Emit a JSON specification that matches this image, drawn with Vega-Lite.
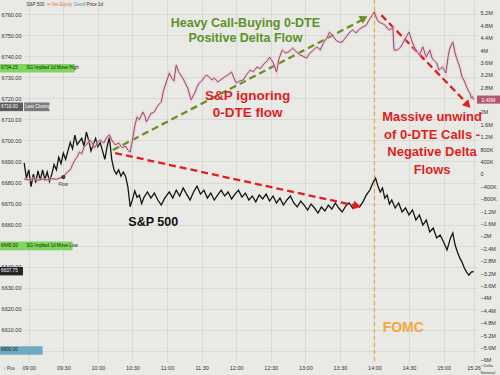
{
  "$schema": "https://vega.github.io/schema/vega-lite/v6.json",
  "width": 454,
  "height": 362,
  "autosize": {"type": "none"},
  "padding": {"left": 23, "right": 23, "top": 0, "bottom": 13},
  "background": "#e9e9e6",
  "config": {
    "view": {"stroke": null},
    "font": "Liberation Sans",
    "axis": {"labelFont": "Liberation Sans", "labelFontSize": 5.5, "labelColor": "#333333", "ticks": false, "domain": false, "title": null, "gridColor": "#d3d3cf", "gridWidth": 0.7}
  },
  "datasets": {
    "spx": [
      {"t":"08:56","p":6689.3},{"t":"08:58","p":6682},{"t":"09:00","p":6686},{"t":"09:02","p":6678},{"t":"09:04","p":6684},{"t":"09:06","p":6680},{"t":"09:08","p":6685.5},{"t":"09:10","p":6681},{"t":"09:12","p":6686},{"t":"09:14","p":6681.5},{"t":"09:16","p":6685},{"t":"09:18","p":6680.5},{"t":"09:20","p":6684},{"t":"09:22","p":6688.5},{"t":"09:24","p":6686},{"t":"09:26","p":6692},{"t":"09:28","p":6689},{"t":"09:30","p":6694},{"t":"09:32","p":6691},{"t":"09:34","p":6695},{"t":"09:36","p":6699},{"t":"09:38","p":6696},{"t":"09:40","p":6702.5},{"t":"09:42","p":6698},{"t":"09:44","p":6699.5},{"t":"09:46","p":6701},{"t":"09:48","p":6697},{"t":"09:50","p":6704},{"t":"09:52","p":6700},{"t":"09:54","p":6695},{"t":"09:56","p":6698},{"t":"09:58","p":6701},{"t":"10:00","p":6697},{"t":"10:02","p":6699},{"t":"10:04","p":6695},{"t":"10:06","p":6691},{"t":"10:08","p":6697},{"t":"10:10","p":6701.5},{"t":"10:12","p":6691},{"t":"10:14","p":6686},{"t":"10:16","p":6684},{"t":"10:18","p":6686},{"t":"10:20","p":6683},{"t":"10:22","p":6685},{"t":"10:24","p":6683},{"t":"10:26","p":6678},{"t":"10:28","p":6668.5},{"t":"10:30","p":6672},{"t":"10:32","p":6676},{"t":"10:34","p":6673},{"t":"10:36","p":6674},{"t":"10:38","p":6670},{"t":"10:40","p":6673},{"t":"10:43","p":6675.5},{"t":"10:46","p":6672.6},{"t":"10:49","p":6675},{"t":"10:52","p":6671.7},{"t":"10:55","p":6669.3},{"t":"10:58","p":6672.6},{"t":"11:00","p":6674.1},
      {"t":"11:02","p":6675.5},{"t":"11:05","p":6672.6},{"t":"11:08","p":6676.4},{"t":"11:11","p":6673.6},{"t":"11:14","p":6677.4},{"t":"11:17","p":6674.5},{"t":"11:20","p":6671.7},{"t":"11:23","p":6675.5},{"t":"11:26","p":6678.3},{"t":"11:29","p":6674.5},{"t":"11:32","p":6676.4},{"t":"11:35","p":6672.6},{"t":"11:38","p":6675},{"t":"11:41","p":6671.7},{"t":"11:44","p":6674.1},{"t":"11:47","p":6676.4},{"t":"11:50","p":6673.6},{"t":"11:53","p":6675.5},{"t":"11:56","p":6672.2},{"t":"11:59","p":6674.5},{"t":"12:02","p":6676.4},{"t":"12:05","p":6673.1},{"t":"12:08","p":6675},{"t":"12:11","p":6671.7},{"t":"12:14","p":6673.6},{"t":"12:17","p":6670.8},{"t":"12:20","p":6674.1},{"t":"12:23","p":6672.2},{"t":"12:26","p":6674.5},{"t":"12:29","p":6671.2},{"t":"12:32","p":6673.6},{"t":"12:35","p":6670.3},{"t":"12:38","p":6672.6},{"t":"12:41","p":6669.3},{"t":"12:44","p":6671.7},{"t":"12:47","p":6673.6},{"t":"12:50","p":6670.3},{"t":"12:53","p":6668.4},{"t":"12:56","p":6671.2},{"t":"12:59","p":6669.3},{"t":"13:02","p":6666.9},{"t":"13:05","p":6669.8},{"t":"13:08","p":6667.9},{"t":"13:11","p":6665.5},{"t":"13:14","p":6668.4},{"t":"13:17","p":6666.5},{"t":"13:20","p":6669.3},{"t":"13:23","p":6667.4},{"t":"13:26","p":6670.3},{"t":"13:29","p":6667.9},{"t":"13:32","p":6666},{"t":"13:35","p":6668.8},{"t":"13:38","p":6670.3},{"t":"13:41","p":6667.9},{"t":"13:44","p":6669.8},{"t":"13:47","p":6668.4},{"t":"13:50","p":6670.8},{"t":"13:53","p":6674.1},{"t":"13:56","p":6676.4},{"t":"13:59","p":6680.2},{"t":"14:01","p":6682.1},{"t":"14:03","p":6678.3},{"t":"14:05","p":6675.5},{"t":"14:07","p":6677.4},{"t":"14:09","p":6672.6},{"t":"14:11","p":6674.1},{"t":"14:13","p":6669.8},{"t":"14:15","p":6671.7},{"t":"14:18","p":6667.9},{"t":"14:21","p":6670.3},{"t":"14:24","p":6666},{"t":"14:27","p":6667.9},{"t":"14:30","p":6664.6},{"t":"14:33","p":6667},{"t":"14:36","p":6662.2},{"t":"14:39","p":6664.6},{"t":"14:42","p":6659.8},{"t":"14:45","p":6662.2},{"t":"14:48","p":6656.5},{"t":"14:51","p":6658.4},{"t":"14:54","p":6653.7},{"t":"14:57","p":6655.1},{"t":"15:00","p":6651.8},{"t":"15:03","p":6648},{"t":"15:06","p":6653.7},{"t":"15:08","p":6656},{"t":"15:10","p":6650.3},{"t":"15:12","p":6647},{"t":"15:14","p":6644.2},{"t":"15:16","p":6642.2},{"t":"15:18","p":6639.4},{"t":"15:20","p":6637.5},{"t":"15:22","p":6636},{"t":"15:24","p":6637.5},{"t":"15:26","p":6637.75}
    ]
  },
  "encoding": {
    "x": {
      "field": "t", "type": "temporal",
      "scale": {"domain": [{"year":1900,"month":1,"date":1,"hours":8,"minutes":55},{"year":1900,"month":1,"date":1,"hours":15,"minutes":29}]},
      "axis": {
        "format": "%H:%M", "grid": true, "labelPadding": 3, "labelOverlap": false, "labelFlush": false,
        "values": [
          {"year":1900,"month":1,"date":1,"hours":9,"minutes":0},{"year":1900,"month":1,"date":1,"hours":9,"minutes":30},
          {"year":1900,"month":1,"date":1,"hours":10,"minutes":0},{"year":1900,"month":1,"date":1,"hours":10,"minutes":30},
          {"year":1900,"month":1,"date":1,"hours":11,"minutes":0},{"year":1900,"month":1,"date":1,"hours":11,"minutes":30},
          {"year":1900,"month":1,"date":1,"hours":12,"minutes":0},{"year":1900,"month":1,"date":1,"hours":12,"minutes":30},
          {"year":1900,"month":1,"date":1,"hours":13,"minutes":0},{"year":1900,"month":1,"date":1,"hours":13,"minutes":30},
          {"year":1900,"month":1,"date":1,"hours":14,"minutes":0},{"year":1900,"month":1,"date":1,"hours":14,"minutes":30},
          {"year":1900,"month":1,"date":1,"hours":15,"minutes":0},{"year":1900,"month":1,"date":1,"hours":15,"minutes":26}
        ]
      }
    }
  },
  "layer": [
    {
      "encoding": {
        "y": {
          "field": "p", "type": "quantitative",
          "scale": {"domain": [6594.78, 6766.67], "zero": false, "nice": false},
          "axis": {"orient": "left", "grid": true, "labelPadding": 2,
                   "labelExpr": "(datum.value == 6650 || datum.value == 6600) ? '' : format(datum.value, '.2f')",
                   "values": [6600,6610,6620,6630,6640,6650,6660,6670,6680,6690,6700,6710,6720,6730,6740,6750,6760]}
        }
      },
      "layer": [
        {
          "data": {"values": [
            {"t":"08:35","t2":"09:40","p":6732.2,"p2":6736.3,"kind":"implied"},
            {"t":"08:35","t2":"08:55","p":6713.9,"p2":6718.0,"kind":"close"},
            {"t":"08:56","t2":"09:18","p":6713.9,"p2":6718.0,"kind":"closelabel"},
            {"t":"08:35","t2":"09:38","p":6647.9,"p2":6652.0,"kind":"implied"},
            {"t":"08:35","t2":"08:55","p":6635.9,"p2":6639.9,"kind":"last"},
            {"t":"08:35","t2":"09:12","p":6598.2,"p2":6602.3,"kind":"blue"}
          ], "format": {"parse": {"t": "date:'%H:%M'", "t2": "date:'%H:%M'"}}},
          "mark": {"type": "rect"},
          "encoding": {
            "x2": {"field": "t2"},
            "y2": {"field": "p2"},
            "color": {"field": "kind", "type": "nominal", "legend": null,
                      "scale": {"domain": ["implied","close","closelabel","last","blue"], "range": ["#7fd65c","#5c5c5c","#7a7a7a","#262626","#6eaac2"]}}
          }
        },
        {
          "data": {"values": [
            {"t":"08:36","p":6734.25,"label":"6734.25","kind":"dark"},
            {"t":"08:58","p":6734.25,"label":"SG Implied 1d Move High","kind":"dark"},
            {"t":"08:36","p":6715.95,"label":"6716.00","kind":"light"},
            {"t":"08:57","p":6715.95,"label":"Last Closing","kind":"light"},
            {"t":"08:36","p":6649.95,"label":"6645.00","kind":"dark"},
            {"t":"08:58","p":6649.95,"label":"SG Implied 1d Move Low","kind":"dark"},
            {"t":"08:36","p":6637.9,"label":"6637.75","kind":"light"},
            {"t":"08:36","p":6600.25,"label":"6600.00","kind":"dark"}
          ], "format": {"parse": {"t": "date:'%H:%M'"}}},
          "mark": {"type": "text", "align": "left", "baseline": "middle", "fontSize": 4.6, "font": "Liberation Sans"},
          "encoding": {
            "text": {"field": "label"},
            "color": {"field": "kind", "type": "nominal", "legend": null, "scale": {"domain": ["dark","light"], "range": ["#1a1a1a","#ffffff"]}}
          }
        },
        {
          "data": {"values": [{"t":"08:38","p":6591.3,"label":"↑ Pos"}], "format": {"parse": {"t": "date:'%H:%M'"}}},
          "mark": {"type": "text", "align": "left", "baseline": "middle", "fontSize": 4.5, "color": "#333333", "font": "Liberation Sans"},
          "encoding": {"text": {"field": "label"}}
        },
        {
          "data": {"name": "spx", "format": {"parse": {"t": "date:'%H:%M'"}}},
          "mark": {"type": "line", "color": "#141414", "strokeWidth": 1.3}
        },
        {
          "data": {"values": [{"t":"10:13","p":6695.4,"t2":"13:50","p2":6757.4}], "format": {"parse": {"t": "date:'%H:%M'", "t2": "date:'%H:%M'"}}},
          "mark": {"type": "rule", "color": "#6b8e23", "strokeWidth": 2.3, "strokeDash": [7, 4]},
          "encoding": {"x2": {"field": "t2"}, "y2": {"field": "p2"}}
        },
        {
          "data": {"values": [{"t":"13:51","p":6758.1}], "format": {"parse": {"t": "date:'%H:%M'"}}},
          "mark": {"type": "point", "shape": "triangle-right", "filled": true, "size": 80, "angle": 332, "color": "#6b8e23", "opacity": 1}
        },
        {
          "data": {"values": [{"t":"10:15","p":6694.0,"t2":"13:45","p2":6668.9}], "format": {"parse": {"t": "date:'%H:%M'", "t2": "date:'%H:%M'"}}},
          "mark": {"type": "rule", "color": "#e01e1e", "strokeWidth": 2.3, "strokeDash": [7, 4]},
          "encoding": {"x2": {"field": "t2"}, "y2": {"field": "p2"}}
        },
        {
          "data": {"values": [{"t":"13:45","p":6668.9}], "format": {"parse": {"t": "date:'%H:%M'"}}},
          "mark": {"type": "point", "shape": "triangle-right", "filled": true, "size": 80, "angle": 12, "color": "#e01e1e", "opacity": 1}
        },
        {
          "data": {"values": [{"t":"14:06","p":6759.5,"t2":"15:21","p2":6717.2}], "format": {"parse": {"t": "date:'%H:%M'", "t2": "date:'%H:%M'"}}},
          "mark": {"type": "rule", "color": "#e01e1e", "strokeWidth": 2.3, "strokeDash": [7, 4]},
          "encoding": {"x2": {"field": "t2"}, "y2": {"field": "p2"}}
        },
        {
          "data": {"values": [{"t":"15:21","p":6716.8}], "format": {"parse": {"t": "date:'%H:%M'"}}},
          "mark": {"type": "point", "shape": "triangle-right", "filled": true, "size": 80, "angle": 46, "color": "#e01e1e", "opacity": 1}
        },
        {
          "data": {"values": [
            {"t":"12:08","p":6755.7,"label":"Heavy Call-Buying 0-DTE"},
            {"t":"12:08","p":6748.6,"label":"Positive Delta Flow"}
          ], "format": {"parse": {"t": "date:'%H:%M'"}}},
          "mark": {"type": "text", "align": "center", "baseline": "middle", "fontSize": 12.5, "fontWeight": "bold", "color": "#5f9128", "font": "Liberation Sans"},
          "encoding": {"text": {"field": "label"}}
        },
        {
          "data": {"values": [
            {"t":"12:10","p":6721.1,"label":"S&P ignoring"},
            {"t":"12:10","p":6713.0,"label":"0-DTE flow"}
          ], "format": {"parse": {"t": "date:'%H:%M'"}}},
          "mark": {"type": "text", "align": "center", "baseline": "middle", "fontSize": 13.5, "fontWeight": "bold", "color": "#e01e1e", "font": "Liberation Sans"},
          "encoding": {"text": {"field": "label"}}
        },
        {
          "data": {"values": [
            {"t":"14:50","p":6711.1,"label":"Massive unwind"},
            {"t":"14:50","p":6702.6,"label":"of 0-DTE Calls -"},
            {"t":"14:50","p":6694.5,"label":"Negative Delta"},
            {"t":"14:50","p":6686.0,"label":"Flows"}
          ], "format": {"parse": {"t": "date:'%H:%M'"}}},
          "mark": {"type": "text", "align": "center", "baseline": "middle", "fontSize": 13, "fontWeight": "bold", "color": "#e01e1e", "font": "Liberation Sans"},
          "encoding": {"text": {"field": "label"}}
        },
        {
          "data": {"values": [{"t":"10:48","p":6661.3,"label":"S&P 500"}], "format": {"parse": {"t": "date:'%H:%M'"}}},
          "mark": {"type": "text", "align": "center", "baseline": "middle", "fontSize": 12.5, "fontWeight": "bold", "color": "#111111", "font": "Liberation Sans"},
          "encoding": {"text": {"field": "label"}}
        },
        {
          "data": {"values": [{"t":"14:25","p":6610.9,"label":"FOMC"}], "format": {"parse": {"t": "date:'%H:%M'"}}},
          "mark": {"type": "text", "align": "center", "baseline": "middle", "fontSize": 14, "fontWeight": "bold", "color": "#f2a93b", "font": "Liberation Sans"},
          "encoding": {"text": {"field": "label"}}
        },
        {
          "data": {"values": [
            {"t":"08:58","p":6764.3,"label":"S&P 500","kind":"name"},
            {"t":"09:16","p":6764.3,"label":"•• Net Equity","kind":"net"},
            {"t":"09:39","p":6764.3,"label":"Gexdl","kind":"gex"},
            {"t":"09:50","p":6764.3,"label":"Price","kind":"name"},
            {"t":"10:00","p":6764.3,"label":"1d","kind":"name"}
          ], "format": {"parse": {"t": "date:'%H:%M'"}}},
          "mark": {"type": "text", "align": "left", "baseline": "middle", "fontSize": 4.5, "font": "Liberation Sans"},
          "encoding": {
            "text": {"field": "label"},
            "color": {"field": "kind", "type": "nominal", "legend": null, "scale": {"domain": ["name","net","gex"], "range": ["#333333","#e0823a","#4b9aa6"]}}
          }
        }
      ],
      "resolve": {"scale": {"color": "independent"}}
    },
    {
      "encoding": {
        "y": {
          "field": "v", "type": "quantitative",
          "scale": {"domain": [-6.065, 5.613], "zero": false, "nice": false},
          "axis": {
            "orient": "right", "grid": false, "labelPadding": 3,
            "values": [-6,-5.6,-5.2,-4.8,-4.4,-4,-3.6,-3.2,-2.8,-2.4,-2,-1.6,-1.2,-0.8,-0.4,0,0.4,0.8,1.2,1.6,2,2.4,2.8,3.2,3.6,4,4.4,4.8,5.2],
            "labelExpr": "datum.value == 0 ? '0' : (datum.value == 2.4 ? '' : (abs(datum.value) < 1 ? format(datum.value * 1000, 'd') + 'K' : format(datum.value, '.1~f') + 'M'))"
          }
        }
      },
      "layer": [
        {
          "data": {"values": [
            {"t":"08:56","v":-0.16},{"t":"09:00","v":-0.19},{"t":"09:04","v":-0.14},{"t":"09:08","v":-0.2},{"t":"09:12","v":-0.16},{"t":"09:16","v":-0.19},{"t":"09:20","v":-0.15},{"t":"09:24","v":-0.17},{"t":"09:28","v":-0.12},{"t":"09:30","v":-0.1},{"t":"09:33","v":0.05},{"t":"09:36","v":0.13},{"t":"09:38","v":0.3},{"t":"09:40","v":0.45},{"t":"09:42","v":0.55},{"t":"09:44","v":0.71},{"t":"09:46","v":0.65},{"t":"09:48","v":0.87},{"t":"09:50","v":0.94},{"t":"09:53","v":1.1},{"t":"09:55","v":1.0},{"t":"09:57","v":0.84},{"t":"10:00","v":1.03},{"t":"10:02","v":1.1},{"t":"10:05","v":1.0},{"t":"10:08","v":1.2},{"t":"10:10","v":1.26},{"t":"10:12","v":1.1},{"t":"10:15","v":0.94},{"t":"10:18","v":1.0},{"t":"10:21","v":0.85},{"t":"10:24","v":0.9},{"t":"10:26","v":0.77},{"t":"10:28","v":0.71},{"t":"10:30","v":1.1},{"t":"10:32","v":1.55},{"t":"10:34","v":1.84},{"t":"10:36","v":1.75},{"t":"10:39","v":2.0},{"t":"10:41","v":1.85},{"t":"10:42","v":1.68},{"t":"10:44","v":1.8},{"t":"10:46","v":1.95},{"t":"10:49","v":2.0},{"t":"10:51","v":2.15},{"t":"10:53","v":2.25},{"t":"10:55","v":2.32},{"t":"10:57","v":2.7},{"t":"11:00","v":3.03},{"t":"11:02","v":3.26},{"t":"11:04","v":3.1},{"t":"11:06","v":3.0},{"t":"11:08","v":3.52},{"t":"11:10","v":3.3},{"t":"11:13","v":3.13},{"t":"11:15","v":3.0},{"t":"11:18","v":2.77},{"t":"11:20","v":2.5},{"t":"11:21","v":2.39},{"t":"11:23","v":2.55},{"t":"11:24","v":2.61},{"t":"11:26","v":2.8},{"t":"11:28","v":2.94},{"t":"11:30","v":3.0},{"t":"11:32","v":3.1},{"t":"11:34","v":3.19},{"t":"11:36","v":3.15},{"t":"11:39","v":3.03},{"t":"11:41","v":3.1},{"t":"11:44","v":2.97},{"t":"11:47","v":3.05},{"t":"11:50","v":3.13},{"t":"11:53","v":3.2},{"t":"11:56","v":3.29},{"t":"11:58","v":3.1},{"t":"12:00","v":2.94},{"t":"12:03","v":3.0},{"t":"12:06","v":3.03},{"t":"12:09","v":3.2},{"t":"12:12","v":3.35},{"t":"12:15","v":3.3},{"t":"12:18","v":3.45},{"t":"12:21","v":3.4},{"t":"12:24","v":3.55},{"t":"12:27","v":3.65},{"t":"12:29","v":3.77},{"t":"12:32","v":3.6},{"t":"12:35","v":3.29},{"t":"12:37","v":3.7},{"t":"12:40","v":4.0},{"t":"12:43","v":3.9},{"t":"12:46","v":3.95},{"t":"12:49","v":4.06},{"t":"12:52","v":3.95},{"t":"12:55","v":3.85},{"t":"12:58","v":3.8},{"t":"13:01","v":3.74},{"t":"13:04","v":3.9},{"t":"13:07","v":4.0},{"t":"13:10","v":4.1},{"t":"13:13","v":4.0},{"t":"13:16","v":4.25},{"t":"13:19","v":4.4},{"t":"13:21","v":4.58},{"t":"13:24","v":4.45},{"t":"13:27","v":4.3},{"t":"13:30","v":4.25},{"t":"13:32","v":4.26},{"t":"13:35","v":4.4},{"t":"13:38","v":4.55},{"t":"13:41","v":4.65},{"t":"13:44","v":4.55},{"t":"13:47","v":4.68},{"t":"13:50","v":4.74},{"t":"13:53","v":4.8},{"t":"13:55","v":4.95},{"t":"13:57","v":5.06},{"t":"14:00","v":5.23},{"t":"14:02","v":5.0},{"t":"14:04","v":4.9},{"t":"14:07","v":4.85},{"t":"14:09","v":4.81},{"t":"14:11","v":4.7},{"t":"14:13","v":4.65},{"t":"14:16","v":4.71},{"t":"14:17","v":4.0},{"t":"14:20","v":4.0},{"t":"14:23","v":4.1},{"t":"14:26","v":4.32},{"t":"14:28","v":4.45},{"t":"14:30","v":4.58},{"t":"14:33","v":4.23},{"t":"14:36","v":4.0},{"t":"14:39","v":3.84},{"t":"14:42","v":4.1},{"t":"14:45","v":3.77},{"t":"14:48","v":4.0},{"t":"14:50","v":3.74},{"t":"14:52","v":3.65},{"t":"14:54","v":3.58},{"t":"14:56","v":3.35},{"t":"14:59","v":3.45},{"t":"15:02","v":3.26},{"t":"15:04","v":3.8},{"t":"15:05","v":4.0},{"t":"15:07","v":4.2},{"t":"15:08","v":4.26},{"t":"15:10","v":3.9},{"t":"15:11","v":3.77},{"t":"15:13","v":3.55},{"t":"15:14","v":3.45},{"t":"15:16","v":3.13},{"t":"15:18","v":3.0},{"t":"15:20","v":2.81},{"t":"15:22","v":2.65},{"t":"15:23","v":2.61},{"t":"15:24","v":2.45},{"t":"15:25","v":2.5},{"t":"15:26","v":2.4}
          ], "format": {"parse": {"t": "date:'%H:%M'"}}},
          "layer": [
            {"mark": {"type": "line", "color": "#e9b9ca", "strokeWidth": 3, "opacity": 0.55}},
            {"mark": {"type": "line", "color": "#9a4a6c", "strokeWidth": 1}}
          ]
        },
        {
          "data": {"values": [{"t":"09:30","v":-0.1}], "format": {"parse": {"t": "date:'%H:%M'"}}},
          "mark": {"type": "point", "filled": true, "size": 18, "color": "#6e1f43", "opacity": 1}
        },
        {
          "data": {"values": [{"t":"09:30","v":-0.36,"label":"Flow"}], "format": {"parse": {"t": "date:'%H:%M'"}}},
          "mark": {"type": "text", "align": "center", "baseline": "middle", "fontSize": 4.5, "color": "#333333", "font": "Liberation Sans"},
          "encoding": {"text": {"field": "label"}}
        },
        {
          "data": {"values": [{"t":"15:29","t2":"15:49","v":2.27,"v2":2.53}], "format": {"parse": {"t": "date:'%H:%M'", "t2": "date:'%H:%M'"}}},
          "mark": {"type": "rect", "color": "#b5566f"},
          "encoding": {"x2": {"field": "t2"}, "y2": {"field": "v2"}}
        },
        {
          "data": {"values": [{"t":"15:39","v":2.4,"label":"2.40M"}], "format": {"parse": {"t": "date:'%H:%M'"}}},
          "mark": {"type": "text", "align": "center", "baseline": "middle", "fontSize": 5, "color": "#ffffff", "font": "Liberation Sans"},
          "encoding": {"text": {"field": "label"}}
        },
        {
          "data": {"values": [
            {"t":"15:32","v":-6.2,"label":"↑ Delta"},
            {"t":"15:32","v":-6.42,"label":"Notional"}
          ], "format": {"parse": {"t": "date:'%H:%M'"}}},
          "mark": {"type": "text", "align": "left", "baseline": "middle", "fontSize": 4, "color": "#333333", "font": "Liberation Sans"},
          "encoding": {"text": {"field": "label"}}
        }
      ]
    },
    {
      "data": {"values": [{"t":"14:00"}], "format": {"parse": {"t": "date:'%H:%M'"}}},
      "mark": {"type": "rule", "color": "#f2a93b", "strokeWidth": 1.3, "strokeDash": [4, 3]},
      "encoding": {}
    }
  ],
  "resolve": {"scale": {"y": "independent"}, "axis": {"y": "independent"}}
}
